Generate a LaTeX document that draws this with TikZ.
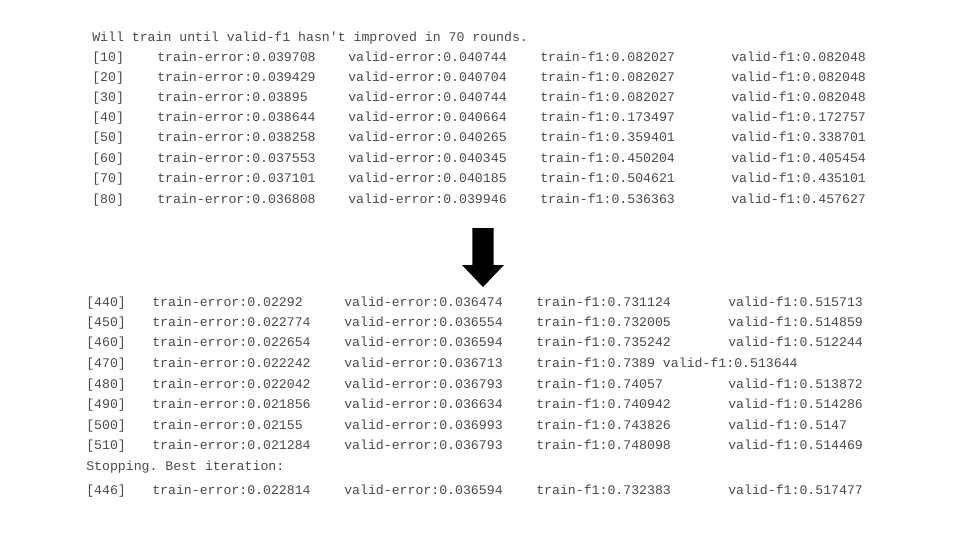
\documentclass[tikz,border=0pt]{standalone}
\usepackage{fontspec}
\setmonofont{Liberation Mono}
\definecolor{logGray}{HTML}{4A4A4A}
\begin{document}
\begin{tikzpicture}
[x=0.75pt,y=-0.75pt,
  textDecorate/.style={anchor=west,inner sep=0pt,text=logGray,
    font=\fontsize{9.9}{12}\selectfont\ttfamily,text height=1.5ex,text depth=0.35ex},
  arrowDecorate/.style={fill=black}]
\useasboundingbox (0,0) rectangle (960,540);
%% header line
\node (head) at (92,38) [textDecorate] {Will train until valid-f1 hasn't improved in 70 rounds.};
%% first rounds
\foreach \iter/\y/\te/\ve/\tf/\vf in {
  10/58/0.039708/0.040744/0.082027/0.082048,
  20/78/0.039429/0.040704/0.082027/0.082048,
  30/98/0.03895/0.040744/0.082027/0.082048,
  40/118/0.038644/0.040664/0.173497/0.172757,
  50/138/0.038258/0.040265/0.359401/0.338701,
  60/159/0.037553/0.040345/0.450204/0.405454,
  70/179/0.037101/0.040185/0.504621/0.435101,
  80/200/0.036808/0.039946/0.536363/0.457627}
{
  \node (round\iter) at (92,\y) [textDecorate] {[\iter]};
  \node (trainErr\iter) at (157,\y) [textDecorate] {train-error:\te};
  \node (validErr\iter) at (348,\y) [textDecorate] {valid-error:\ve};
  \node (trainF\iter) at (540,\y) [textDecorate] {train-f1:\tf};
  \node (validF\iter) at (731,\y) [textDecorate] {valid-f1:\vf};
}
%% arrow between the two blocks
\coordinate (arrowTop) at (483,228);
\coordinate (arrowTip) at (483,287);
\fill[arrowDecorate] ([xshift=-8pt]arrowTop) -- ([xshift=8pt]arrowTop)
  -- ([xshift=8pt,yshift=16.5pt]arrowTip) -- ([xshift=15.75pt,yshift=16.5pt]arrowTip)
  -- (arrowTip) -- ([xshift=-15.75pt,yshift=16.5pt]arrowTip)
  -- ([xshift=-8pt,yshift=16.5pt]arrowTip) -- cycle;
%% last rounds
\foreach \iter/\y/\te/\ve/\tf/\vf in {
  440/303/0.02292/0.036474/0.731124/0.515713,
  450/323/0.022774/0.036554/0.732005/0.514859,
  460/343/0.022654/0.036594/0.735242/0.512244,
  480/385/0.022042/0.036793/0.74057/0.513872,
  490/405/0.021856/0.036634/0.740942/0.514286,
  500/426/0.02155/0.036993/0.743826/0.5147,
  510/446/0.021284/0.036793/0.748098/0.514469,
  446/491/0.022814/0.036594/0.732383/0.517477}
{
  \node (round\iter) at (86,\y) [textDecorate] {[\iter]};
  \node (trainErr\iter) at (152,\y) [textDecorate] {train-error:\te};
  \node (validErr\iter) at (344,\y) [textDecorate] {valid-error:\ve};
  \node (trainF\iter) at (536,\y) [textDecorate] {train-f1:\tf};
  \node (validF\iter) at (728,\y) [textDecorate] {valid-f1:\vf};
}
%% the odd round
\node (round470) at (86,364) [textDecorate] {[470]};
\node (trainErr470) at (152,364) [textDecorate] {train-error:0.022242};
\node (validErr470) at (344,364) [textDecorate] {valid-error:0.036713};
\node (trainF470) at (536,364) [textDecorate] {train-f1:0.7389 valid-f1:0.513644};
\node (stop) at (86,467) [textDecorate] {Stopping. Best iteration:};
\end{tikzpicture}
\end{document}
